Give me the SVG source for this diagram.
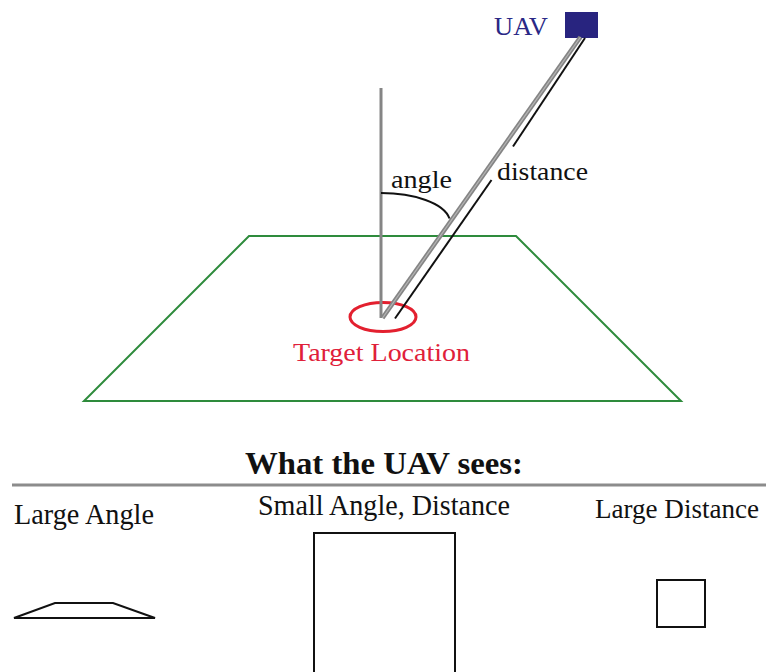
<svg xmlns="http://www.w3.org/2000/svg" width="769" height="672" viewBox="0 0 769 672">
<style>
  text { font-family: "Liberation Serif", "Times New Roman", serif; font-size: 25px; fill: #111; }
  .bold { font-weight: bold; font-size: 31px; }
  .lbl { font-size: 29px; }
  .gray { stroke: #858585; fill: none; stroke-linecap: butt; }
  .blk { stroke: #111; fill: none; stroke-width: 2; }
  .shape { stroke: #111; fill: none; stroke-width: 2; }
</style>
<rect width="769" height="672" fill="#fff"/>

<g id="field">
  <polygon points="249,236 516,236 681,401 84,401" fill="none" stroke="#2e8b3c" stroke-width="2"/>
</g>

<g id="target">
  <ellipse cx="383" cy="317" rx="33" ry="14.5" fill="none" stroke="#e3202f" stroke-width="3"/>
  <text x="293" y="361" style="fill:#e0203a" textLength="177" lengthAdjust="spacingAndGlyphs">Target Location</text>
</g>

<g id="uav">
  <rect x="565" y="12" width="33" height="26" fill="#28247f"/>
  <text x="494" y="35" style="fill:#2a2886" textLength="54" lengthAdjust="spacingAndGlyphs">UAV</text>
</g>

<g id="connectors">
  <line class="gray" x1="381" y1="88" x2="381" y2="318" stroke-width="3"/>
  <line class="gray" x1="382.5" y1="318" x2="580.5" y2="37" stroke-width="4.5"/>
  <line x1="382.5" y1="318" x2="580.5" y2="37" stroke="#b5b5b5" stroke-width="1.2"/>
  <line class="blk" x1="585" y1="38" x2="513" y2="146.5"/>
  <line class="blk" x1="491.5" y1="180" x2="395" y2="318.5"/>
  <path d="M381,193 C414,193 444,203 449.5,218.5" fill="none" stroke="#111" stroke-width="2"/>
</g>

<g id="angle-label">
  <text x="391" y="188" textLength="61" lengthAdjust="spacingAndGlyphs">angle</text>
</g>
<g id="distance-label">
  <text x="497" y="180" textLength="91" lengthAdjust="spacingAndGlyphs">distance</text>
</g>

<g id="title">
  <text class="bold" x="245" y="474" textLength="278" lengthAdjust="spacingAndGlyphs">What the UAV sees:</text>
  <line x1="12" y1="485" x2="766" y2="485" stroke="#8c8c8c" stroke-width="3"/>
</g>

<g id="large-angle">
  <text class="lbl" x="14" y="524" textLength="140" lengthAdjust="spacingAndGlyphs">Large Angle</text>
  <polygon class="shape" points="14,618 55,603 113,603 155,618"/>
</g>

<g id="small-angle-distance">
  <text class="lbl" x="258" y="515" textLength="252" lengthAdjust="spacingAndGlyphs">Small Angle, Distance</text>
  <rect class="shape" x="314" y="533" width="141" height="150"/>
</g>

<g id="large-distance">
  <text x="595" y="518" style="font-size:27px" textLength="164" lengthAdjust="spacingAndGlyphs">Large Distance</text>
  <rect class="shape" x="657" y="580" width="48" height="47"/>
</g>
</svg>
